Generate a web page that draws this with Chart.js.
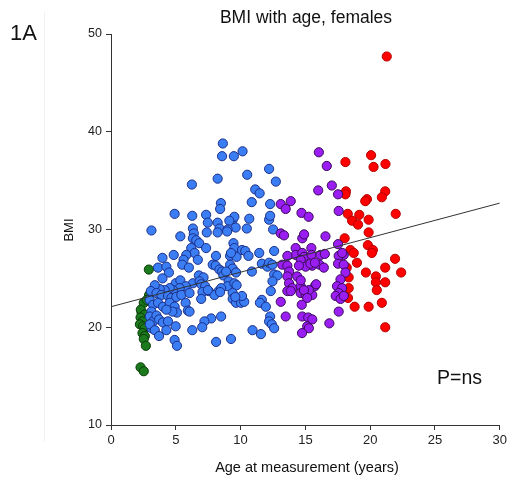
<!DOCTYPE html>
<html>
<head>
<meta charset="utf-8">
<script src="https://cdn.jsdelivr.net/npm/chart.js@4"></script>
<style>
  body { margin: 0; background: #fff; }
  canvas { display: block; }
</style>
</head>
<body>
<canvas id="bmiChart" width="510" height="481"></canvas>
<script>
// [age (years), BMI] per age group
const toddlers = [
  [2.92,25.9],[2.94,23.3],[2.53,22.5],[2.76,22.8],[2.36,21.5],[2.30,21.8],[2.61,21.3],[2.28,21.0],
  [2.43,20.6],[2.23,20.3],[2.48,20.1],[2.61,19.9],[2.43,19.4],[2.61,19.1],[2.53,18.8],[2.69,18.1],
  [2.28,15.9],[2.53,15.5]
];
const children = [
  [8.63,38.8],[8.57,37.5],[9.48,37.5],[10.15,38.0],[12.2,36.2],[12.72,34.9],[8.23,35.2],[10.51,35.6],
  [6.24,34.6],[11.13,34.1],[11.47,33.7],[10.86,32.8],[12.28,32.6],[8.48,32.7],[8.42,32.1],[4.91,31.6],
  [6.27,31.4],[7.34,31.5],[7.47,30.7],[9.39,31.0],[9.52,31.3],[9.13,30.9],[9.62,30.2],[10.67,31.1],
  [8.23,30.7],[8.37,30.1],[9.0,30.0],[8.23,29.7],[10.48,30.1],[12.2,31.0],[12.28,31.4],[12.51,30.0],
  [3.12,29.9],[7.39,29.7],[6.32,30.1],[6.39,29.6],[6.32,29.1],[6.58,28.9],[6.81,28.6],[5.35,29.3],
  [8.96,29.8],[9.45,28.6],[7.34,28.1],[6.19,28.1],[9.52,28.1],[9.19,27.3],[9.69,27.2],[10.11,27.9],
  [10.36,27.8],[10.61,27.3],[11.44,27.6],[12.59,27.8],[8.1,27.3],[6.45,27.6],[5.81,27.4],[4.84,27.4],
  [3.97,27.1],[9.26,27.6],[5.6,26.9],[5.5,26.4],[6.01,26.1],[6.7,26.9],[3.63,26.1],[4.27,26.2],
  [4.47,25.6],[3.97,25.0],[7.85,26.4],[8.08,26.3],[8.37,25.9],[8.57,25.7],[8.67,25.3],[9.19,26.4],
  [9.39,26.0],[9.65,25.6],[10.87,25.7],[8.88,25.7],[11.64,26.5],[12.07,26.2],[12.2,26.6],[12.46,26.4],
  [12.59,25.4],[12.84,25.3],[12.46,24.7],[6.78,25.3],[7.14,25.1],[6.32,24.5],[6.83,24.7],[6.96,24.4],
  [7.27,24.2],[7.06,23.6],[9.08,24.7],[9.0,24.2],[9.52,24.5],[9.69,24.3],[7.54,23.7],[8.31,23.7],
  [8.5,24.0],[7.98,23.3],[9.39,23.5],[9.39,22.9],[9.65,22.5],[10.03,22.5],[10.28,22.6],[10.11,23.2],
  [11.64,22.8],[11.49,22.5],[11.95,22.1],[12.33,23.7],[12.28,21.1],[12.2,20.6],[12.41,20.3],[12.59,19.9],
  [7.73,20.9],[8.5,21.1],[7.21,20.6],[10.92,19.7],[11.57,19.3],[9.26,18.8],[4.99,24.5],[5.35,24.8],
  [5.76,24.2],[5.3,24.0],[4.78,23.8],[4.53,24.0],[4.14,23.8],[3.76,23.9],[3.38,24.3],[3.07,23.7],
  [3.51,23.5],[3.89,23.3],[4.4,23.2],[4.66,23.0],[5.04,23.1],[5.43,23.3],[6.06,23.5],[7.47,23.8],
  [8.42,23.6],[9.59,23.1],[6.96,22.9],[2.99,22.8],[3.25,22.3],[3.63,22.5],[4.01,22.1],[4.53,22.5],
  [4.91,22.1],[5.76,22.5],[5.93,21.7],[6.06,21.6],[5.09,21.5],[4.74,21.6],[4.27,21.8],[3.12,21.6],
  [2.99,21.1],[3.25,20.6],[3.51,21.2],[3.71,20.8],[4.01,20.5],[4.4,20.6],[4.99,20.1],[7.04,20.0],
  [6.27,19.7],[3.12,19.9],[2.99,20.3],[3.38,19.7],[3.71,19.1],[4.27,19.7],[4.91,18.7],[5.09,18.1],
  [8.11,18.5]
];
const teens = [
  [16.04,37.9],[16.65,36.5],[17.04,34.5],[15.99,34.0],[17.52,33.6],[17.57,31.9],[13.1,32.6],[13.48,32.1],
  [13.87,32.9],[14.7,31.7],[15.25,31.3],[13.1,29.6],[13.35,29.4],[14.76,29.1],[14.9,29.5],[16.55,29.3],
  [17.52,28.5],[14.25,28.1],[15.46,28.1],[14.25,27.4],[14.76,27.6],[14.89,27.2],[14.64,26.9],[15.48,27.4],
  [16.17,27.4],[16.5,27.5],[16.09,26.4],[15.53,26.3],[15.02,26.2],[14.5,26.3],[15.39,26.5],[15.73,26.6],
  [16.42,26.1],[13.61,27.3],[13.22,26.4],[13.61,26.3],[13.74,25.7],[13.61,25.2],[14.37,25.2],[17.96,27.4],
  [17.57,27.3],[17.52,26.5],[17.84,27.6],[17.96,26.4],[18.09,25.6],[17.71,24.9],[17.44,24.2],[17.83,24.0],
  [17.57,23.5],[17.34,23.2],[17.71,22.9],[17.96,23.2],[13.74,24.5],[13.99,24.0],[13.61,23.7],[14.64,24.2],
  [14.64,23.5],[15.02,23.3],[15.53,23.3],[15.73,24.2],[15.27,23.8],[14.64,24.8],[14.89,23.8],[15.14,23.0],
  [15.83,24.4],[14.72,22.3],[13.1,22.6],[13.48,21.1],[14.76,21.1],[15.22,21.0],[15.53,20.8],[15.14,20.1],
  [15.27,19.9],[17.57,21.6],[16.85,20.4],[14.74,19.4],[13.87,23.7]
];
const adults = [
  [21.28,47.7],[18.09,36.9],[20.07,37.6],[20.26,36.4],[21.18,36.7],[18.13,33.9],[18.09,33.6],[21.16,33.9],
  [19.75,33.1],[19.62,32.9],[20.9,33.3],[18.27,31.6],[19.16,31.5],[18.6,30.9],[19.06,30.5],[19.88,31.0],
  [21.97,31.6],[19.88,29.7],[18.03,29.1],[19.82,28.4],[18.47,27.9],[18.73,27.6],[20.21,27.9],[20.13,27.6],
  [21.92,27.0],[18.98,26.6],[21.16,26.1],[22.39,25.6],[19.67,25.6],[20.44,25.2],[20.44,24.6],[21.16,24.6],
  [20.51,23.8],[18.34,24.0],[18.29,23.0],[18.8,22.1],[19.88,22.1],[20.9,22.5],[21.16,20.0],[18.19,26.1],
  [18.34,25.1]
];
// fitted regression line end points
const trendLine = [[0,22.1],[30,32.7]];

const xTicks = [0, 5, 10, 15, 20, 25, 30];
const yTicks = [10, 20, 30, 40, 50];

const FONT = "'Liberation Sans', Arial, sans-serif";

function toPoints(arr) {
  return arr.map(p => ({ x: p[0], y: p[1] }));
}

function groupSet(label, arr, fill, edge, order) {
  return {
    label: label,
    data: toPoints(arr),
    backgroundColor: fill,
    borderColor: edge,
    borderWidth: 1,
    pointRadius: 4.6,
    pointHoverRadius: 4.6,
    order: order
  };
}

// annotation text and the thin separator on the left
const annotations = {
  id: 'annotations',
  afterDraw(chart) {
    const ctx = chart.ctx;
    ctx.save();
    ctx.strokeStyle = '#f0f0f0';
    ctx.lineWidth = 1;
    ctx.beginPath();
    ctx.moveTo(44.5, 12);
    ctx.lineTo(44.5, 442);
    ctx.stroke();

    ctx.fillStyle = '#111';
    ctx.textBaseline = 'alphabetic';
    ctx.textAlign = 'left';
    ctx.font = '22px ' + FONT;
    ctx.fillText('1A', 10, 40);

    ctx.textAlign = 'center';
    ctx.font = '17.5px ' + FONT;
    ctx.fillText('BMI with age, females', 306, 23);

    ctx.font = '14.5px ' + FONT;
    ctx.fillText('Age at measurement (years)', 307, 472);

    ctx.textAlign = 'left';
    ctx.font = '19.5px ' + FONT;
    ctx.fillText('P=ns', 437, 384);

    ctx.translate(73, 230);
    ctx.rotate(-Math.PI / 2);
    ctx.textAlign = 'center';
    ctx.font = '13px ' + FONT;
    ctx.fillText('BMI', 0, 0);
    ctx.restore();
  }
};

new Chart(document.getElementById('bmiChart').getContext('2d'), {
  type: 'scatter',
  data: {
    datasets: [
      {
        label: 'Trend',
        data: toPoints(trendLine),
        showLine: true,
        borderColor: '#333',
        borderWidth: 1,
        pointRadius: 0,
        fill: false,
        order: 0
      },
      groupSet('13-18 y', teens, '#9a1df2', '#3b0a5c', 1),
      groupSet('3-13 y', children, '#3b7df2', '#1b2f8a', 2),
      groupSet('18+ y', adults, '#ff0000', '#b40000', 3),
      groupSet('<3 y', toddlers, '#1b7a1b', '#0a3a0a', 4)
    ]
  },
  options: {
    responsive: false,
    animation: false,
    layout: { padding: { top: 34, right: 8, left: 0, bottom: 0 } },
    plugins: {
      legend: { display: false },
      tooltip: { enabled: false }
    },
    scales: {
      x: {
        type: 'linear',
        min: 0,
        max: 30,
        afterFit: s => { s.height = 56; },
        afterBuildTicks: s => { s.ticks = xTicks.map(v => ({ value: v })); },
        ticks: { font: { family: FONT, size: 13 }, color: '#222', padding: 3, maxRotation: 0 },
        grid: { drawOnChartArea: false, drawTicks: true, tickLength: 5, tickColor: '#333' },
        border: { display: true, color: '#333', width: 1 }
      },
      y: {
        type: 'linear',
        min: 10,
        max: 50,
        afterFit: s => { s.width = 111; },
        afterBuildTicks: s => { s.ticks = yTicks.map(v => ({ value: v })); },
        ticks: { font: { family: FONT, size: 12.5 }, color: '#222', padding: 4 },
        grid: { drawOnChartArea: false, drawTicks: true, tickLength: 5, tickColor: '#333' },
        border: { display: true, color: '#333', width: 1 }
      }
    }
  },
  plugins: [annotations]
});
</script>
</body>
</html>
